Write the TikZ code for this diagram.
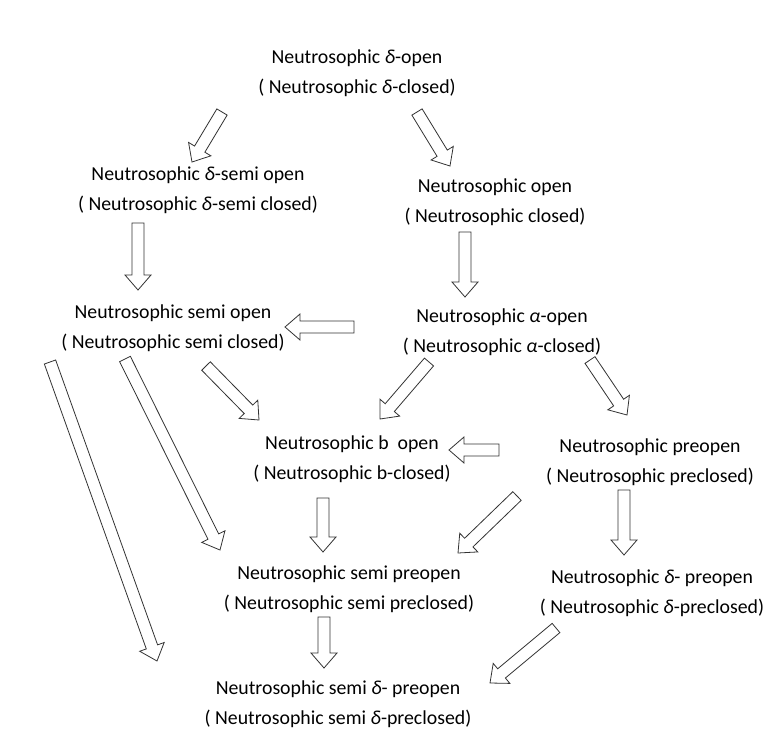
\documentclass[tikz,border=0pt]{standalone}
\usepackage{fontspec}
\setmainfont{Carlito}
\usetikzlibrary{calc}
\tikzset{
  lbl/.style={align=center, inner sep=0pt, font=\fontsize{19.8}{29.5}\selectfont},
  hollow/.style={draw=black!80, line width=0.8pt, fill=white, line join=miter}
}
\newcommand\harrow[2]{%
  \coordinate (hb) at ($(#2)!15pt!(#1)$);
  \draw[hollow] ($(#1)!6pt!90:(#2)$) -- ($(hb)!6pt!90:(#2)$) -- ($(hb)!13pt!90:(#2)$) -- (#2)
    -- ($(hb)!13pt!-90:(#2)$) -- ($(hb)!6pt!-90:(#2)$) -- ($(#1)!6pt!-90:(#2)$) -- cycle;}
\newcommand\gr[1]{\textit{#1}}
\begin{document}
\begin{tikzpicture}[x=1pt,y=-1pt]
\useasboundingbox[fill=white] (0,0) rectangle (771,734);
% nodes
\node[lbl] (n1) at (357,73) {Neutrosophic \gr{δ}-open\\( Neutrosophic \gr{δ}-closed)};
\node[lbl] (n2) at (198,190) {Neutrosophic \gr{δ}-semi open\\( Neutrosophic \gr{δ}-semi closed)};
\node[lbl] (n3) at (495,202) {Neutrosophic open\\( Neutrosophic closed)};
\node[lbl] (n4) at (173,328) {Neutrosophic semi open\\( Neutrosophic semi closed)};
\node[lbl] (n5) at (502,332) {Neutrosophic \gr{α}-open\\( Neutrosophic \gr{α}-closed)};
\node[lbl] (n6) at (352,459) {Neutrosophic b\ \ open\\( Neutrosophic b-closed)};
\node[lbl] (n7) at (650,462) {Neutrosophic preopen\\( Neutrosophic preclosed)};
\node[lbl] (n8) at (349,589) {Neutrosophic semi preopen\\( Neutrosophic semi preclosed)};
\node[lbl] (n9) at (652,593) {Neutrosophic \gr{δ}- preopen\\( Neutrosophic \gr{δ}-preclosed)};
\node[lbl] (n10) at (338,704) {Neutrosophic semi \gr{δ}- preopen\\( Neutrosophic semi \gr{δ}-preclosed)};
% arrow end points
\coordinate (a1s) at (222,112);  \coordinate (a1e) at (192,162);
\coordinate (a2s) at (417,112);  \coordinate (a2e) at (450,166);
\coordinate (a3s) at (138,223);  \coordinate (a3e) at (138,290);
\coordinate (a4s) at (465,232);  \coordinate (a4e) at (465,297);
\coordinate (a5s) at (354,327);  \coordinate (a5e) at (285,327);
\coordinate (a6s) at (429,362);  \coordinate (a6e) at (380,419);
\coordinate (a7s) at (206,366);  \coordinate (a7e) at (259,420);
\coordinate (a8s) at (590,360);  \coordinate (a8e) at (627,415);
\coordinate (a9s) at (499,450);  \coordinate (a9e) at (449,450);
\coordinate (a10s) at (323,498); \coordinate (a10e) at (323,552);
\coordinate (a11s) at (517,496); \coordinate (a11e) at (458,553);
\coordinate (a12s) at (624,490); \coordinate (a12e) at (624,555);
\coordinate (a13s) at (324,617); \coordinate (a13e) at (324,668);
\coordinate (a14s) at (556,628); \coordinate (a14e) at (490,683);
\coordinate (a15s) at (125,359); \coordinate (a15e) at (220,550);
\coordinate (a16s) at (50,362);  \coordinate (a16e) at (157,661);
\foreach \i in {1,...,16} {\harrow{a\i s}{a\i e}}
\end{tikzpicture}
\end{document}
